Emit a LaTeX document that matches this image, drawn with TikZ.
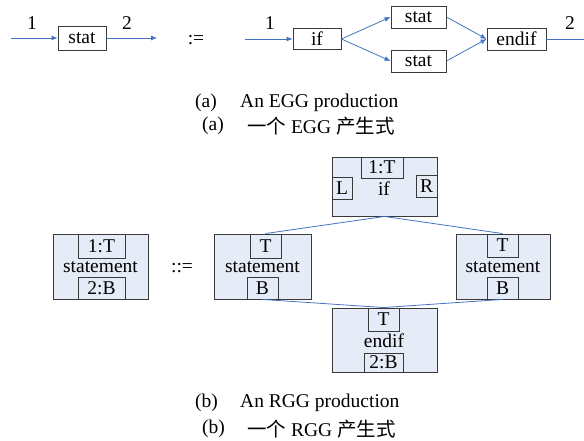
\documentclass[tikz,border=0pt]{standalone}
\usepackage{fontspec}
\setmainfont{Liberation Serif}
\newfontfamily\cjk{Noto Sans CJK SC}
\usetikzlibrary{arrows.meta}
\definecolor{arrblue}{HTML}{4472C4}
\definecolor{boxfill}{HTML}{E6ECF7}
\definecolor{boxline}{HTML}{3A3A3A}
\newcommand\fnt{\fontsize{19.5}{22}\selectfont}
\tikzset{
  txt/.style={font=\fnt, inner sep=0pt},
  egg/.style={draw=boxline, line width=0.9pt, fill=white, inner sep=0pt, font=\fnt},
  outbox/.style={draw=boxline, line width=0.9pt, fill=boxfill, inner sep=0pt},
  inbox/.style={draw=boxline, line width=0.9pt, inner sep=0pt, font=\fnt},
  arr/.style={draw=arrblue, line width=0.8pt, -{Latex[length=6pt,width=5pt]}},
  lnk/.style={draw=arrblue, line width=0.8pt},
}
\begin{document}
\begin{tikzpicture}[x=1pt,y=-1pt]
\useasboundingbox (0,0) rectangle (584,441);
% ---------- (a) EGG production ----------
\coordinate (a1) at (11,38);
\coordinate (a2) at (157,38);
\coordinate (a3) at (245,39);
\coordinate (a4) at (584,39);
\node[egg, minimum width=48, minimum height=24] (stat1) at (82,38) {stat};
\node[egg, minimum width=48, minimum height=21] (if1) at (317,39) {if};
\node[egg, minimum width=55, minimum height=22] (statA) at (418.5,17) {stat};
\node[egg, minimum width=55, minimum height=22] (statB) at (418.5,61) {stat};
\node[egg, minimum width=59, minimum height=22] (endif1) at (516.5,39) {endif};
\draw[arr] (a1) -- (stat1.west);
\draw[arr] (stat1.east) -- (a2);
\draw[arr] (a3) -- (if1.west);
\draw[arr] (if1.east) -- (statA.west);
\draw[arr] (if1.east) -- (statB.west);
\draw[arr] (statA.east) -- (endif1.west);
\draw[arr] (statB.east) -- (endif1.west);
\draw[lnk] (endif1.east) -- (a4);
\node[txt] (l1) at (32,23) {1};
\node[txt] (l2) at (127,23) {2};
\node[txt] (def1) at (196,40) {:=};
\node[txt] (l3) at (270,23) {1};
\node[txt] (l4) at (570,23) {2};
\node[txt, anchor=west] (capa1) at (195,103) {(a)};
\node[txt, anchor=west] (capa2) at (240,103) {An EGG production};
\node[txt, anchor=west] (capa3) at (202,126) {(a)};
\node[txt, anchor=west] (capa4) at (247,126) {{\cjk 一个} EGG {\cjk 产生式}};
% ---------- (b) RGG production ----------
% left statement
\node[outbox, minimum width=95, minimum height=65] (ls) at (100.5,266.5) {};
\node[inbox, minimum width=47, minimum height=24] (lsT) at (101.5,246) {1:T};
\node[inbox, minimum width=47, minimum height=22] (lsB) at (101.5,288) {2:B};
\node[txt] (lsN) at (100.5,267.5) {statement};
\node[txt] (def2) at (182,268) {::=};
% middle statement
\node[outbox, minimum width=97, minimum height=65] (ms) at (262.5,266.5) {};
\node[inbox, minimum width=31, minimum height=24] (msT) at (265.5,246) {T};
\node[inbox, minimum width=31, minimum height=22] (msB) at (262.5,288) {B};
\node[txt] (msN) at (262.5,267.5) {statement};
% if
\node[outbox, minimum width=105, minimum height=59] (ifb) at (384.5,186.5) {};
\node[inbox, minimum width=42, minimum height=21] (ifT) at (382,167.5) {1:T};
\node[inbox, minimum width=20, minimum height=22] (ifL) at (342,188) {L};
\node[inbox, minimum width=21, minimum height=22] (ifR) at (426.5,186) {R};
\node[txt] (ifN) at (384,189) {if};
% right statement
\node[outbox, minimum width=94, minimum height=65] (rs) at (503,266.5) {};
\node[inbox, minimum width=31, minimum height=23] (rsT) at (502.5,245.5) {T};
\node[inbox, minimum width=31, minimum height=22] (rsB) at (502.5,288) {B};
\node[txt] (rsN) at (503,267.5) {statement};
% endif
\node[outbox, minimum width=105, minimum height=64] (eb) at (384.5,340) {};
\node[inbox, minimum width=31, minimum height=23] (ebT) at (383.5,319.5) {T};
\node[inbox, minimum width=39, minimum height=19] (ebB) at (383.5,362.5) {2:B};
\node[txt] (ebN) at (384,341) {endif};
% links
\draw[lnk] (ifb.south) -- (msT.north);
\draw[lnk] (ifb.south) -- (rsT.north);
\draw[lnk] (msB.south) -- (ebT.north);
\draw[lnk] (rsB.south) -- (ebT.north);
\node[txt, anchor=west] (capb1) at (195,403) {(b)};
\node[txt, anchor=west] (capb2) at (240,403) {An RGG production};
\node[txt, anchor=west] (capb3) at (202,429) {(b)};
\node[txt, anchor=west] (capb4) at (247,429) {{\cjk 一个} RGG {\cjk 产生式}};
\end{tikzpicture}
\end{document}
